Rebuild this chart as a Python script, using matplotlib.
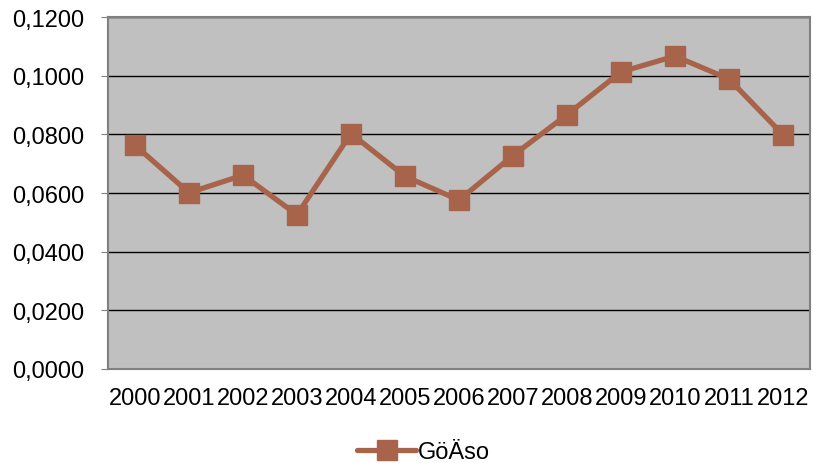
import matplotlib
matplotlib.use("Agg")
import matplotlib.pyplot as plt
from matplotlib.ticker import FuncFormatter, MultipleLocator

years = ["2000", "2001", "2002", "2003", "2004", "2005", "2006",
         "2007", "2008", "2009", "2010", "2011", "2012"]
values = [0.0763, 0.0601, 0.0661, 0.0526, 0.0803, 0.0657, 0.0576,
          0.0728, 0.0867, 0.1013, 0.1067, 0.0989, 0.0799]
series_name = "GöÄso"

plt.rcParams['font.family'] = ['Liberation Sans', 'DejaVu Sans']

fig = plt.figure(figsize=(8.14, 4.64), dpi=100)
ax = fig.add_axes([0.1327, 0.2026, 0.8623, 0.7584])
ax.set_facecolor('#C0C0C0')

color = '#A8644B'
x = list(range(len(years)))
ax.plot(x, values, color=color, linewidth=3.8, marker='s', markersize=14,
        markerfacecolor=color, markeredgecolor=color, label=series_name,
        solid_joinstyle='round', solid_capstyle='round', zorder=3)

ax.set_xlim(-0.5, len(years) - 0.5)
ax.set_ylim(0, 0.12)
ax.yaxis.set_major_locator(MultipleLocator(0.02))
ax.yaxis.set_major_formatter(FuncFormatter(lambda v, p: f"{v:.4f}".replace('.', ',')))
ax.set_xticks(x)
ax.set_xticklabels(years)
ax.grid(axis='y', color='black', linewidth=1.0, zorder=1)
ax.set_axisbelow(True)

for s in ax.spines.values():
    s.set_color('#808080')
    s.set_linewidth(1.5)

ax.tick_params(axis='y', labelsize=17, length=5, color='#808080', pad=12)
ax.tick_params(axis='x', labelsize=17, length=0, pad=13)

leg = fig.legend(loc='center', bbox_to_anchor=(0.52, 0.024), frameon=False,
                 fontsize=17, handlelength=2.5, handletextpad=0.05,
                 borderaxespad=0)

fig.savefig('out.png', dpi=100)
